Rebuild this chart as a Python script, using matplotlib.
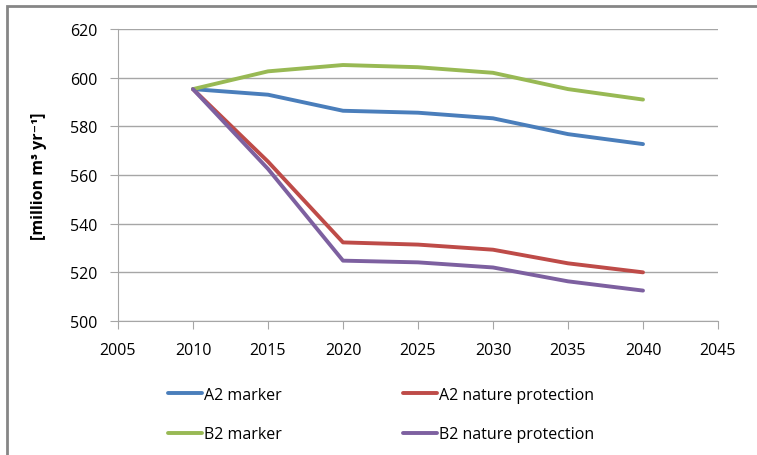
import matplotlib.pyplot as plt
from matplotlib.patches import Rectangle

years = [2010, 2015, 2020, 2025, 2030, 2035, 2040]
a2_marker = [595.3, 593.0, 586.4, 585.6, 583.3, 576.8, 572.7]
a2_nature = [595.3, 565.5, 532.3, 531.4, 529.3, 523.7, 520.0]
b2_marker = [595.3, 602.6, 605.2, 604.3, 602.0, 595.3, 591.0]
b2_nature = [595.3, 562.5, 524.8, 524.1, 522.0, 516.3, 512.5]

labels = ["A2 marker", "A2 nature protection", "B2 marker", "B2 nature protection"]
colors = ["#4a7ebb", "#be4b48", "#98b954", "#7d60a0"]

plt.rcParams['font.family'] = ['Open Sans', 'DejaVu Sans']

fig = plt.figure(figsize=(7.57, 4.56), dpi=100)
# outer chart frame (only top/left visible in the reference)
fig.patches.append(Rectangle((7 / 757, -0.1), 1.2, (456 - 7) / 456 + 0.1,
                             transform=fig.transFigure, fill=False,
                             edgecolor="#868686", linewidth=2.0))

ax = fig.add_axes([118 / 757, (456 - 322) / 456, (718 - 118) / 757, (322 - 30) / 456])

series = [a2_marker, a2_nature, b2_marker, b2_nature]
lines = []
for vals, lab, col in zip(series, labels, colors):
    ln, = ax.plot(years, vals, color=col, linewidth=2.8, label=lab,
                  solid_capstyle="round", solid_joinstyle="round")
    lines.append(ln)

ax.set_xlim(2005, 2045)
ax.set_ylim(500, 620)
ax.set_xticks(range(2005, 2046, 5))
ax.set_yticks(range(500, 621, 20))
ax.grid(axis="y", color="#a6a6a6", linewidth=1.0)
ax.set_axisbelow(True)

for side in ["top", "right"]:
    ax.spines[side].set_visible(False)
for side in ["left", "bottom"]:
    ax.spines[side].set_color("#a6a6a6")
ax.tick_params(axis="both", colors="#a6a6a6", labelcolor="black",
               labelsize=11.5, length=6, direction="out")
ax.tick_params(axis="x", pad=9)
ax.tick_params(axis="y", pad=9)

ax.set_ylabel("[million m³ yr⁻¹]", fontsize=11.5, fontweight="bold")
ax.yaxis.set_label_coords(-0.118, 0.5)

# legend fills column-wise, so reorder to get rows A2 / B2
order = [0, 2, 1, 3]
fig.legend(handles=[lines[i] for i in order], ncol=2, loc="upper left",
           bbox_to_anchor=(160 / 757, 1 - 380 / 456), frameon=False,
           borderpad=0, fontsize=11.5, handlelength=2.1, handletextpad=0.15,
           columnspacing=7.6, labelspacing=1.45)

fig.savefig("out.png", dpi=100)
